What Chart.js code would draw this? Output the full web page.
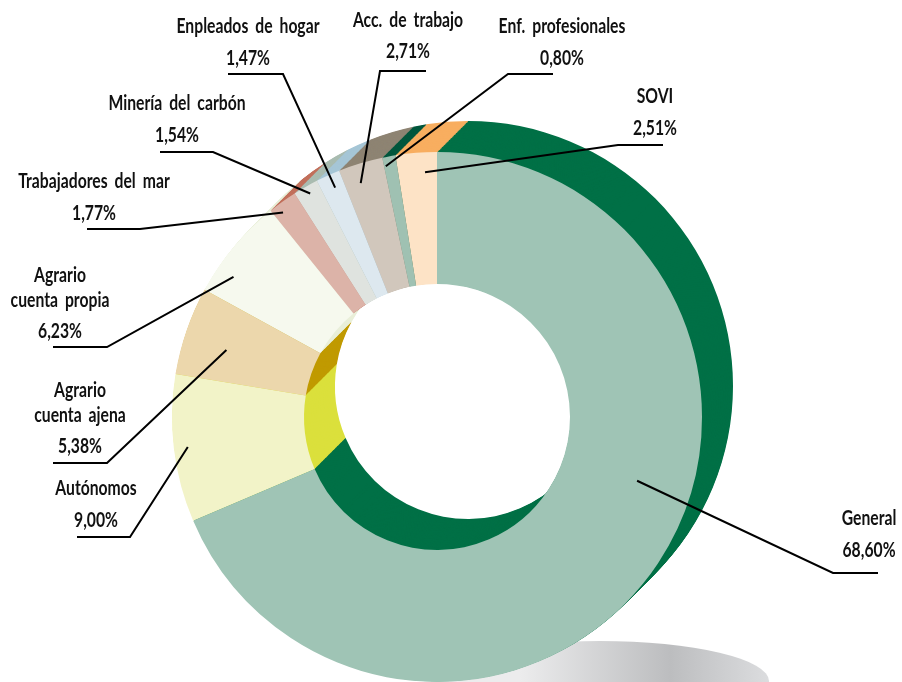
<!DOCTYPE html>
<html>
<head>
<meta charset="utf-8">
<script src="https://cdn.jsdelivr.net/npm/chart.js@4/dist/chart.umd.min.js"></script>
<style>
  html, body { margin: 0; padding: 0; background: #fff; overflow: hidden; }
  #chart { display: block; }
</style>
</head>
<body>
<canvas id="chart" width="902" height="682"></canvas>
<script>
// Datos (orden horario desde las 12)
const categories = [
  'General', 'Autónomos', 'Agrario cuenta ajena', 'Agrario cuenta propia',
  'Trabajadores del mar', 'Minería del carbón', 'Enpleados de hogar',
  'Acc. de trabajo', 'Enf. profesionales', 'SOVI',
];
const values = [68.60, 9.00, 5.38, 6.23, 1.77, 1.54, 1.47, 2.71, 0.80, 2.51];
const labelText = [
  ['General'], ['Autónomos'], ['Agrario', 'cuenta ajena'], ['Agrario', 'cuenta propia'],
  ['Trabajadores del mar'], ['Minería del carbón'], ['Enpleados de hogar'],
  ['Acc. de trabajo'], ['Enf. profesionales'], ['SOVI'],
];

// colores: cara frontal / lateral (extrusión)
const faceColors = [
  '#9fc4b5', '#f2f3c8', '#ecd7ac', '#f6f9ee', '#dcb3a8',
  '#dfe3df', '#dde8ef', '#d1c7bc', '#9fc1b2', '#fde3c6',
];
const sideColors = [
  '#007046', '#dbe03c', '#c09a00', '#e9efd9', '#c2705c',
  '#aabcb1', '#a6c6d6', '#8e8473', '#00573d', '#f8ae60',
];

// posición de etiquetas y guías (t = fracción angular dentro del sector, r = radio del ancla)
const labelLayout = [
  { cx: 869, ys: [525, 557], ul: [833, 878, 573], elbow: 833, t: 0.436, r: 210 },
  { cx: 96,  ys: [495, 527], ul: [77, 130, 537],  elbow: 130, t: 0.50,  r: 251 },
  { cx: 80,  ys: [397, 422, 453], ul: [53, 107, 463], elbow: 107, t: 0.43, r: 221 },
  { cx: 60,  ys: [282, 307, 338], ul: [53, 107, 347], elbow: 107, t: 0.26, r: 247 },
  { cx: 94,  ys: [188, 220], ul: [87, 140, 229],  elbow: 140, t: 0.30,  r: 256 },
  { cx: 177, ys: [110, 142], ul: [160, 213, 152], elbow: 213, t: 0.53,  r: 257 },
  { cx: 248, ys: [33, 65],   ul: [228, 283, 74],  elbow: 283, t: 0.57,  r: 251 },
  { cx: 408, ys: [27, 58],   ul: [380, 426, 71],  elbow: 380, t: 0.37,  r: 246 },
  { cx: 562, ys: [33, 65],   ul: [508, 553, 74],  elbow: 508, t: 0.13,  r: 256 },
  { cx: 655, ys: [103, 135], ul: [618, 663, 145], elbow: 618, t: 0.69,  r: 245 },
];

const DEPTH_X = 31, DEPTH_Y = -31;
const FONT = 'bold 20px Lato, "DejaVu Sans", sans-serif';
const REF_TEXT = 'Enpleados de hogar', REF_WIDTH = 143;   // ancho medido en la imagen

const fmtPct = v => v.toFixed(2).replace('.', ',') + '%';

// sombra elíptica bajo el anillo
const shadowPlugin = {
  id: 'shadow',
  beforeDraw(chart) {
    const ctx = chart.ctx;
    ctx.save();
    const g = ctx.createLinearGradient(520, 0, 770, 0);
    g.addColorStop(0, '#ececed');
    g.addColorStop(0.6, '#bcbdbf');
    g.addColorStop(1, '#dcdddf');
    ctx.fillStyle = g;
    ctx.beginPath();
    ctx.ellipse(600, 681, 169, 40, 0, 0, Math.PI * 2);
    ctx.fill();
    ctx.restore();
  },
};

// extrusión 3D: copias desplazadas de cada sector, de atrás hacia delante
const extrudePlugin = {
  id: 'extrude',
  beforeDatasetsDraw(chart) {
    const ctx = chart.ctx;
    const arcs = chart.getDatasetMeta(0).data;
    const steps = 44;
    ctx.save();
    for (let s = steps; s >= 1; s--) {
      const ox = DEPTH_X * s / steps, oy = DEPTH_Y * s / steps;
      arcs.forEach((arc, i) => {
        const { x, y, startAngle, endAngle, innerRadius, outerRadius } = arc;
        ctx.fillStyle = sideColors[i];
        ctx.beginPath();
        ctx.arc(x + ox, y + oy, outerRadius, startAngle, endAngle);
        ctx.arc(x + ox, y + oy, innerRadius, endAngle, startAngle, true);
        ctx.closePath();
        ctx.fill();
      });
    }
    ctx.restore();
  },
};

// etiquetas con líneas guía
const labelPlugin = {
  id: 'leaderLabels',
  afterDraw(chart) {
    const ctx = chart.ctx;
    const arcs = chart.getDatasetMeta(0).data;
    ctx.save();
    ctx.font = FONT;
    if ('wordSpacing' in ctx) ctx.wordSpacing = '4px';
    const sx = REF_WIDTH / ctx.measureText(REF_TEXT).width;  // texto condensado
    ctx.fillStyle = '#111';
    ctx.textAlign = 'center';
    ctx.textBaseline = 'alphabetic';
    ctx.strokeStyle = '#000';
    ctx.lineWidth = 2;
    arcs.forEach((arc, i) => {
      const L = labelLayout[i];
      const lines = [...labelText[i], fmtPct(values[i])];
      lines.forEach((txt, k) => {
        ctx.save();
        ctx.translate(L.cx, L.ys[k]);
        ctx.scale(sx, 1);
        ctx.fillText(txt, 0, 0);
        ctx.restore();
      });

      const a = arc.startAngle + L.t * (arc.endAngle - arc.startAngle);
      const ax = arc.x + L.r * Math.cos(a);
      const ay = arc.y + L.r * Math.sin(a);
      const [x1, x2, uy] = L.ul;
      const other = L.elbow === x1 ? x2 : x1;
      ctx.beginPath();
      ctx.moveTo(other, uy);
      ctx.lineTo(L.elbow, uy);
      ctx.lineTo(ax, ay);
      ctx.stroke();
    });
    ctx.restore();
  },
};

new Chart(document.getElementById('chart'), {
  type: 'doughnut',
  data: {
    labels: categories,
    datasets: [{
      data: values,
      backgroundColor: faceColors,
      borderWidth: 0,
    }],
  },
  options: {
    responsive: false,
    animation: false,
    radius: 265,
    cutout: 133,
    layout: { padding: { left: 172, right: 200, top: 152, bottom: 0 } },
    plugins: {
      legend: { display: false },
      tooltip: { enabled: false },
    },
  },
  plugins: [shadowPlugin, extrudePlugin, labelPlugin],
});
</script>
</body>
</html>
